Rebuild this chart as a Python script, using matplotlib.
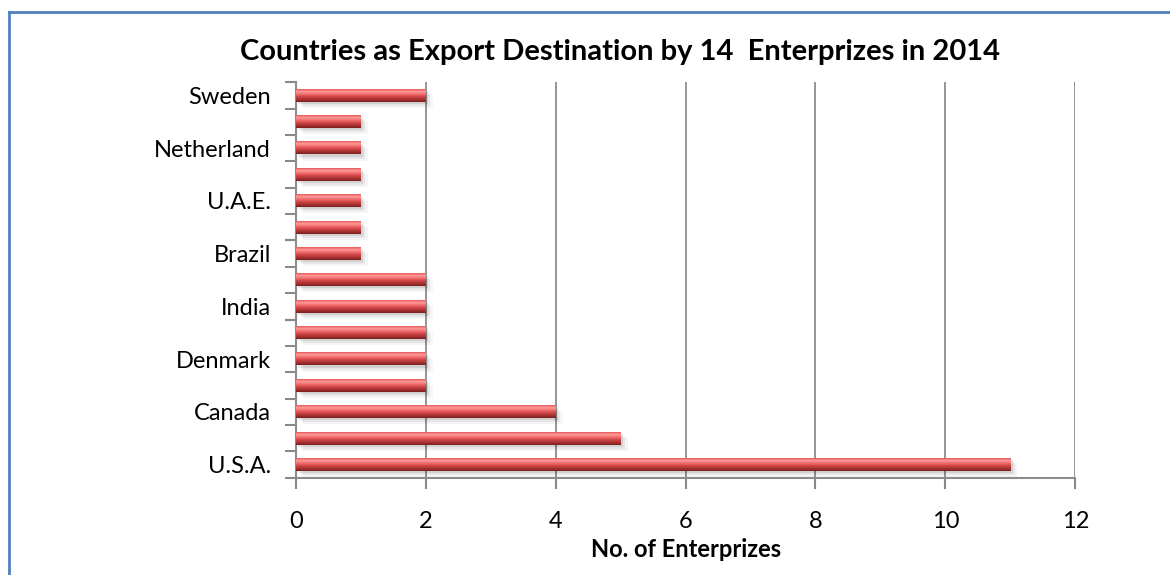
import numpy as np
import matplotlib.pyplot as plt
from matplotlib.colors import LinearSegmentedColormap
from matplotlib.lines import Line2D

# countries, bottom to top; only every other one gets a tick label
countries = ["U.S.A.", "", "Canada", "", "Denmark", "", "India", "",
             "Brazil", "", "U.A.E.", "", "Netherland", "", "Sweden"]
enterprises = [11, 5, 4, 2, 2, 2, 2, 2, 1, 1, 1, 1, 1, 1, 2]
xticks = [0, 2, 4, 6, 8, 10, 12]

plt.rcParams["font.family"] = ["Lato", "DejaVu Sans"]

fig = plt.figure(figsize=(11.7, 5.75), dpi=100)
ax = fig.add_axes([0.253, 0.169, 0.666, 0.688])

# cylinder-like shading for each bar, light top to dark bottom
shade = LinearSegmentedColormap.from_list(
    "tube", ["#7a1f1f", "#a83232", "#cf4545", "#f06a6a", "#ff9a9a", "#e65a5a"])
grad = np.linspace(0, 1, 64).reshape(-1, 1)

y = np.arange(len(countries))
h = 0.48
bars = ax.barh(y, enterprises, height=h, color="none", zorder=3)
for b in bars:
    x0, y0 = b.get_x(), b.get_y()
    w, bh = b.get_width(), b.get_height()
    # soft drop shadow
    for k, a in enumerate([0.09, 0.06, 0.04]):
        d = 0.035 * (k + 1)
        ax.add_patch(plt.Rectangle((x0 + d, y0 - d * 2.2), w, bh,
                                   color="black", alpha=a, lw=0, zorder=2))
    ax.imshow(grad, cmap=shade, extent=[x0, x0 + w, y0, y0 + bh],
              origin="lower", aspect="auto", zorder=3)

ax.set_xlim(0, 12)
ax.set_ylim(-0.5, len(countries) - 0.5)
ax.set_xticks(xticks)
ax.set_yticks(y)
ax.set_yticklabels(countries)
ax.set_yticks(np.arange(-0.5, len(countries)), minor=True)
ax.tick_params(axis="y", which="major", length=0, pad=18, labelsize=17)
ax.tick_params(axis="y", which="minor", length=8, width=1.5, color="#888888")
ax.tick_params(axis="x", length=8, width=1.5, color="#888888", pad=16, labelsize=17)

ax.grid(axis="x", color="#8c8c8c", lw=1.3, zorder=1)
ax.set_axisbelow(True)
for s in ["top", "right"]:
    ax.spines[s].set_visible(False)
for s in ["left", "bottom"]:
    ax.spines[s].set_color("#8c8c8c")
    ax.spines[s].set_linewidth(1.5)

ax.set_xlabel("No. of Enterprizes", fontsize=17, fontweight="bold", va="center")
ax.xaxis.set_label_coords(0.5, -0.18)
fig.text(0.53, 0.91, "Countries as Export Destination by 14  Enterprizes in 2014",
         ha="center", va="center", fontsize=21, fontweight="bold")

# frame around the chart area
fig.add_artist(Line2D([0.008, 1.0], [0.979, 0.979], color="#4f81bd", lw=2))
fig.add_artist(Line2D([0.008, 0.008], [0.0, 0.979], color="#4f81bd", lw=2))

fig.savefig("out.png", dpi=100)
